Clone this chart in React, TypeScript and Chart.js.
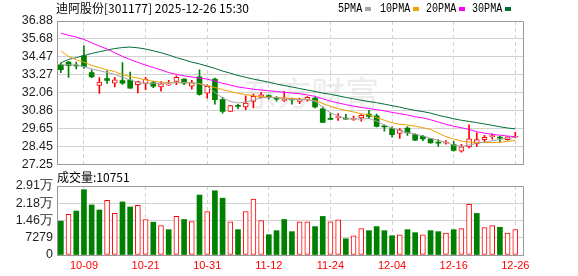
import React, { useEffect, useRef } from 'react';
import { Chart, registerables } from 'chart.js';

Chart.register(...registerables);
Chart.defaults.font.family = '"Liberation Sans", Arial, sans-serif';

// Trading sessions
const DATES = [
  '09-26', '09-29', '09-30', '10-09', '10-10', '10-13', '10-14', '10-15', '10-16', '10-17',
  '10-20', '10-21', '10-22', '10-23', '10-24', '10-27', '10-28', '10-29', '10-30', '10-31',
  '11-03', '11-04', '11-05', '11-06', '11-07', '11-10', '11-11', '11-12', '11-13', '11-14',
  '11-17', '11-18', '11-19', '11-20', '11-21', '11-24', '11-25', '11-26', '11-27', '11-28',
  '12-01', '12-02', '12-03', '12-04', '12-05', '12-08', '12-09', '12-10', '12-11', '12-12',
  '12-15', '12-16', '12-17', '12-18', '12-19', '12-22', '12-23', '12-24', '12-25', '12-26',
];

const OPEN = [
  33.94, 34.12, 33.92, 34.54, 33.42, 32.55, 33.02, 32.71, 32.89, 32.91,
  32.60, 32.69, 32.75, 32.45, 32.58, 32.82, 32.98, 32.50, 33.13, 32.04,
  32.98, 31.60, 30.82, 31.22, 31.12, 31.48, 31.75, 31.85, 31.71, 31.55,
  31.66, 31.48, 31.60, 31.71, 30.99, 30.32, 30.40, 30.36, 30.28, 30.37,
  30.64, 30.52, 29.84, 29.66, 29.34, 29.70, 29.25, 29.14, 28.97, 28.72,
  28.68, 28.59, 28.14, 28.43, 28.65, 28.92, 29.12, 29.06, 28.92, 29.08,
];
const HIGH = [
  34.05, 34.17, 34.12, 35.22, 33.60, 33.09, 33.54, 33.10, 34.09, 33.45,
  32.85, 33.10, 32.85, 32.82, 32.90, 33.20, 33.00, 32.90, 33.60, 32.60,
  33.05, 31.75, 31.22, 31.28, 31.86, 31.98, 32.08, 31.92, 31.80, 32.15,
  31.70, 31.71, 31.80, 31.75, 31.10, 30.70, 30.66, 30.62, 30.50, 30.60,
  30.88, 30.64, 29.92, 29.78, 29.66, 29.80, 29.30, 29.20, 29.00, 28.92,
  28.85, 28.80, 28.60, 29.92, 29.37, 29.20, 29.30, 29.14, 29.13, 29.41,
];
const LOW = [
  33.42, 33.09, 33.67, 33.70, 33.08, 32.02, 32.69, 32.45, 32.62, 32.36,
  32.05, 32.28, 32.40, 32.17, 32.55, 32.60, 32.60, 32.30, 31.90, 31.70,
  31.30, 30.70, 30.80, 31.00, 30.93, 31.05, 31.72, 31.65, 31.50, 31.48,
  31.30, 31.33, 31.50, 31.05, 30.05, 30.28, 30.20, 30.28, 30.20, 30.15,
  30.33, 29.78, 29.48, 29.08, 29.00, 29.20, 28.85, 28.85, 28.68, 28.47,
  28.62, 28.15, 28.08, 28.37, 28.47, 28.77, 28.95, 28.75, 28.88, 29.03,
];
const CLOSE = [
  33.62, 33.89, 33.86, 33.82, 33.13, 32.78, 32.90, 32.93, 32.70, 32.38,
  32.82, 32.98, 32.50, 32.66, 32.63, 33.10, 32.70, 32.75, 31.96, 32.50,
  31.60, 30.82, 31.20, 31.15, 31.38, 31.82, 31.93, 31.80, 31.63, 31.60,
  31.58, 31.60, 31.75, 31.11, 30.08, 30.28, 30.45, 30.30, 30.32, 30.55,
  30.48, 29.81, 29.78, 29.25, 29.57, 29.37, 28.88, 28.97, 28.70, 28.68,
  28.72, 28.20, 28.43, 28.97, 28.92, 29.07, 29.16, 29.02, 29.10, 29.12,
];
// Close of the session before 09-26
const PREV_CLOSE = 33.95;

const VOLUME = [
  14270, 17120, 18550, 27540, 21120, 18980, 23120, 17550, 22400, 20260,
  20980, 14980, 13840, 12420, 10700, 16270, 14980, 14100, 25300, 18270,
  27110, 23970, 13980, 10700, 18270, 23550, 14560, 8560, 10270, 14980,
  9850, 13980, 13980, 11990, 16270, 13980, 14840, 6850, 8130, 11130,
  10270, 11990, 10270, 8130, 8560, 10700, 9420, 8560, 10270, 9850,
  9280, 10700, 11130, 21400, 17550, 11560, 12410, 11700, 9280, 10751,
];

const MA5 = [
  33.94, 33.94, 33.93, 33.82, 33.65, 33.55, 33.42, 33.30, 33.10, 32.93,
  32.76, 32.66, 32.70, 32.70, 32.71, 32.76, 32.76, 32.72, 32.68, 32.50,
  32.08, 31.72, 31.48, 31.38, 31.45, 31.58, 31.72, 31.76, 31.73, 31.66,
  31.62, 31.60, 31.60, 31.50, 31.08, 30.72, 30.50, 30.33, 30.30, 30.30,
  30.33, 30.16, 29.90, 29.70, 29.52, 29.38, 29.30, 29.16, 29.00, 28.88,
  28.72, 28.55, 28.47, 28.55, 28.68, 28.75, 28.85, 28.93, 29.02, 29.07,
];
const MA10 = [
  34.87, 34.50, 34.28, 34.12, 33.90, 33.76, 33.60, 33.48, 33.28, 33.15,
  33.05, 32.93, 32.83, 32.78, 32.74, 32.74, 32.74, 32.73, 32.66, 32.55,
  32.42, 32.28, 32.15, 32.03, 31.94, 31.86, 31.80, 31.77, 31.75, 31.72,
  31.68, 31.64, 31.60, 31.53, 31.35, 31.15, 31.00, 30.88, 30.78, 30.65,
  30.58, 30.40, 30.22, 30.05, 29.95, 29.90, 29.82, 29.72, 29.60, 29.35,
  29.12, 28.96, 28.82, 28.75, 28.73, 28.72, 28.72, 28.74, 28.80, 28.86,
];
const MA20 = [
  36.06, 35.92, 35.80, 35.64, 35.42, 35.20, 35.00, 34.75, 34.50, 34.30,
  34.10, 33.92, 33.76, 33.60, 33.42, 33.30, 33.20, 33.12, 33.05, 32.98,
  32.85, 32.70, 32.58, 32.45, 32.38, 32.30, 32.25, 32.20, 32.15, 32.10,
  32.04, 32.00, 31.92, 31.82, 31.66, 31.50, 31.38, 31.27, 31.17, 31.08,
  31.00, 30.93, 30.85, 30.75, 30.66, 30.57, 30.45, 30.38, 30.25, 30.10,
  29.95, 29.82, 29.72, 29.60, 29.45, 29.35, 29.27, 29.22, 29.16, 29.12,
];
const MA30 = [
  34.08, 34.30, 34.42, 34.56, 34.70, 34.82, 34.93, 35.03, 35.10, 35.13,
  35.08, 35.00, 34.88, 34.75, 34.60, 34.42, 34.28, 34.12, 34.00, 33.85,
  33.70, 33.52, 33.38, 33.22, 33.10, 32.98, 32.88, 32.77, 32.65, 32.55,
  32.45, 32.35, 32.25, 32.15, 32.04, 31.96, 31.86, 31.75, 31.66, 31.56,
  31.48, 31.40, 31.30, 31.20, 31.10, 30.98, 30.88, 30.80, 30.70, 30.55,
  30.44, 30.32, 30.22, 30.14, 30.06, 29.97, 29.88, 29.78, 29.70, 29.64,
];

const PRICE_TICKS = [27.25, 28.45, 29.65, 30.86, 32.06, 33.27, 34.47, 35.68, 36.88];
const VOLUME_TICKS = [0, 7279, 14558, 21837, 29116];
const DATE_TICK_INDEX = [3, 11, 19, 27, 35, 43, 51, 59];

const TITLE = '迪阿股份[301177] 2025-12-26 15:30';
const VOLUME_LABEL = '成交量';
const MA_LABELS = ['5PMA', '10PMA', '20PMA', '30PMA'];
const MA_COLORS = ['#a4a4a4', '#f0a000', '#ff00ff', '#006e36'];
const MA_SERIES = [MA5, MA10, MA20, MA30];

const UP = '#ff0000';
const DOWN = '#008000';
const GRID = '#d2d2d2';
const FRAME = '#999999';

const LEFT_AXIS_WIDTH = 57;
const RIGHT_PAD = 55;

const alignPx = (v: number) => Math.round(v - 0.5) + 0.5;

// Top and right edges of the plot box
const framePlugin = {
  id: 'frame',
  afterDraw(chart: any) {
    const { ctx, chartArea: a } = chart;
    ctx.save();
    ctx.strokeStyle = FRAME;
    ctx.lineWidth = 1;
    ctx.beginPath();
    ctx.moveTo(alignPx(a.left), alignPx(a.top));
    ctx.lineTo(alignPx(a.right), alignPx(a.top));
    ctx.lineTo(alignPx(a.right), alignPx(a.bottom));
    ctx.stroke();
    ctx.restore();
  },
};

const idx = DATES.map((_, i) => i);
const candleUp = idx.map((i) => CLOSE[i] >= OPEN[i]);
const dayUp = idx.map((i) => CLOSE[i] >= (i === 0 ? PREV_CLOSE : CLOSE[i - 1]));

function xScale(showLabels: boolean) {
  return {
    type: 'linear',
    min: -0.5,
    max: 60,
    offset: false,
    afterBuildTicks: (s: any) => {
      s.ticks = DATE_TICK_INDEX.map((v) => ({ value: v }));
    },
    afterFit: (s: any) => {
      s.height = showLabels ? 21 : 0;
    },
    grid: { color: GRID, drawTicks: false, offset: false },
    border: { color: FRAME, dash: [4, 3] },
    ticks: {
      display: showLabels,
      autoSkip: false,
      maxRotation: 0,
      padding: 4,
      color: '#ff0000',
      font: { size: 11 },
      callback: (v: any) => DATES[Math.round(Number(v))] ?? '',
    },
  };
}

function yScale(min: number, max: number, ticks: number[], fmt: (v: number) => string) {
  return {
    type: 'linear',
    min,
    max,
    beginAtZero: false,
    afterBuildTicks: (s: any) => {
      s.ticks = ticks.map((v) => ({ value: v }));
    },
    afterFit: (s: any) => {
      s.width = LEFT_AXIS_WIDTH;
    },
    grid: { color: GRID, drawTicks: false },
    border: { color: FRAME },
    ticks: {
      autoSkip: false,
      padding: 4,
      color: '#1e1e1e',
      font: { size: 12.5 },
      callback: (v: any) => fmt(Number(v)),
    },
  };
}

const volumeFmt = (v: number) => (v >= 10000 ? (v / 10000).toFixed(2) + '万' : String(v));

function priceConfig(): any {
  const maLines = MA_SERIES.map((series, k) => ({
    type: 'line',
    label: MA_LABELS[k],
    data: idx.map((i) => ({ x: i, y: series[i] })),
    borderColor: MA_COLORS[k],
    borderWidth: 1,
    pointRadius: 0,
    tension: 0,
    order: 0,
  }));
  return {
    type: 'bar',
    data: {
      datasets: [
        ...maLines,
        {
          type: 'bar',
          label: 'body',
          data: idx.map((i) => ({ x: i, y: [Math.min(OPEN[i], CLOSE[i]), Math.max(OPEN[i], CLOSE[i])] })),
          backgroundColor: idx.map((i) => (candleUp[i] ? '#ffffff' : DOWN)),
          borderColor: idx.map((i) => (candleUp[i] ? UP : DOWN)),
          borderWidth: idx.map((i) => (candleUp[i] ? 1 : 0)),
          borderSkipped: false,
          barThickness: 5,
          minBarLength: 1,
          grouped: false,
          order: 1,
        },
        {
          type: 'bar',
          label: 'wick',
          data: idx.map((i) => ({ x: i, y: [LOW[i], HIGH[i]] })),
          backgroundColor: idx.map((i) => (candleUp[i] ? UP : DOWN)),
          borderWidth: 0,
          barThickness: 1,
          grouped: false,
          order: 2,
        },
      ],
    },
    options: {
      responsive: false,
      animation: false,
      devicePixelRatio: 1,
      layout: { padding: { left: 0, right: RIGHT_PAD, top: 21, bottom: 11 } },
      plugins: { legend: { display: false }, tooltip: { enabled: false } },
      scales: {
        x: xScale(false),
        y: yScale(27.25, 36.88, PRICE_TICKS, (v) => v.toFixed(2)),
      },
    },
    plugins: [framePlugin],
  };
}

function volumeConfig(): any {
  return {
    type: 'bar',
    data: {
      datasets: [
        {
          label: VOLUME_LABEL,
          data: idx.map((i) => ({ x: i, y: VOLUME[i] })),
          backgroundColor: idx.map((i) => (dayUp[i] ? '#ffffff' : DOWN)),
          borderColor: idx.map((i) => (dayUp[i] ? UP : DOWN)),
          borderWidth: idx.map((i) => (dayUp[i] ? 1 : 0)),
          borderSkipped: false,
          barThickness: 5,
          grouped: false,
        },
      ],
    },
    options: {
      responsive: false,
      animation: false,
      devicePixelRatio: 1,
      layout: { padding: { left: 0, right: RIGHT_PAD, top: 20, bottom: 0 } },
      plugins: { legend: { display: false }, tooltip: { enabled: false } },
      scales: {
        x: xScale(true),
        y: yScale(0, 29116, VOLUME_TICKS, volumeFmt),
      },
    },
    plugins: [framePlugin],
  };
}

const cjk = '"Noto Sans CJK SC", "Noto Sans", sans-serif';

export default function App() {
  const priceRef = useRef<HTMLCanvasElement>(null);
  const volRef = useRef<HTMLCanvasElement>(null);

  useEffect(() => {
    const price = new Chart(priceRef.current as HTMLCanvasElement, priceConfig());
    const vol = new Chart(volRef.current as HTMLCanvasElement, volumeConfig());
    return () => {
      price.destroy();
      vol.destroy();
    };
  }, []);

  const legendLeft = [338, 380, 426, 472];
  const swatchLeft = [365, 413, 459, 505];

  return (
    <div
      style={{
        position: 'absolute',
        left: 0,
        top: 0,
        width: 578,
        height: 276,
        overflow: 'hidden',
        background: '#ffffff',
      }}
    >
      <div
        style={{
          position: 'absolute',
          left: 243,
          top: 75,
          fontFamily: cjk,
          fontSize: 34,
          lineHeight: '34px',
          color: '#ececec',
          whiteSpace: 'nowrap',
        }}
      >
        东方财富
      </div>
      <canvas
        ref={priceRef}
        width={578}
        height={176}
        style={{ position: 'absolute', left: 0, top: 0, width: 578, height: 176 }}
      />
      <canvas
        ref={volRef}
        width={578}
        height={110}
        style={{ position: 'absolute', left: 0, top: 166, width: 578, height: 110 }}
      />
      <div
        style={{
          position: 'absolute',
          left: 56,
          top: 2,
          fontFamily: cjk,
          fontSize: 12,
          lineHeight: '12px',
          color: '#000',
          whiteSpace: 'nowrap',
        }}
      >
        {TITLE}
      </div>
      {MA_LABELS.map((name, k) => (
        <React.Fragment key={name}>
          <span
            style={{
              position: 'absolute',
              left: legendLeft[k],
              top: 3,
              fontFamily: '"Liberation Mono", monospace',
              fontSize: 12,
              lineHeight: '12px',
              color: '#000',
              whiteSpace: 'nowrap',
              transform: 'scaleX(0.84)',
              transformOrigin: 'left center',
            }}
          >
            {name}
          </span>
          <span
            style={{
              position: 'absolute',
              left: swatchLeft[k],
              top: 7,
              width: 6,
              height: 4,
              background: MA_COLORS[k],
            }}
          />
        </React.Fragment>
      ))}
      <div
        style={{
          position: 'absolute',
          left: 57,
          top: 171,
          fontFamily: cjk,
          fontSize: 12,
          lineHeight: '12px',
          color: '#000',
          whiteSpace: 'nowrap',
        }}
      >
        {VOLUME_LABEL + ':' + VOLUME[VOLUME.length - 1]}
      </div>
    </div>
  );
}
